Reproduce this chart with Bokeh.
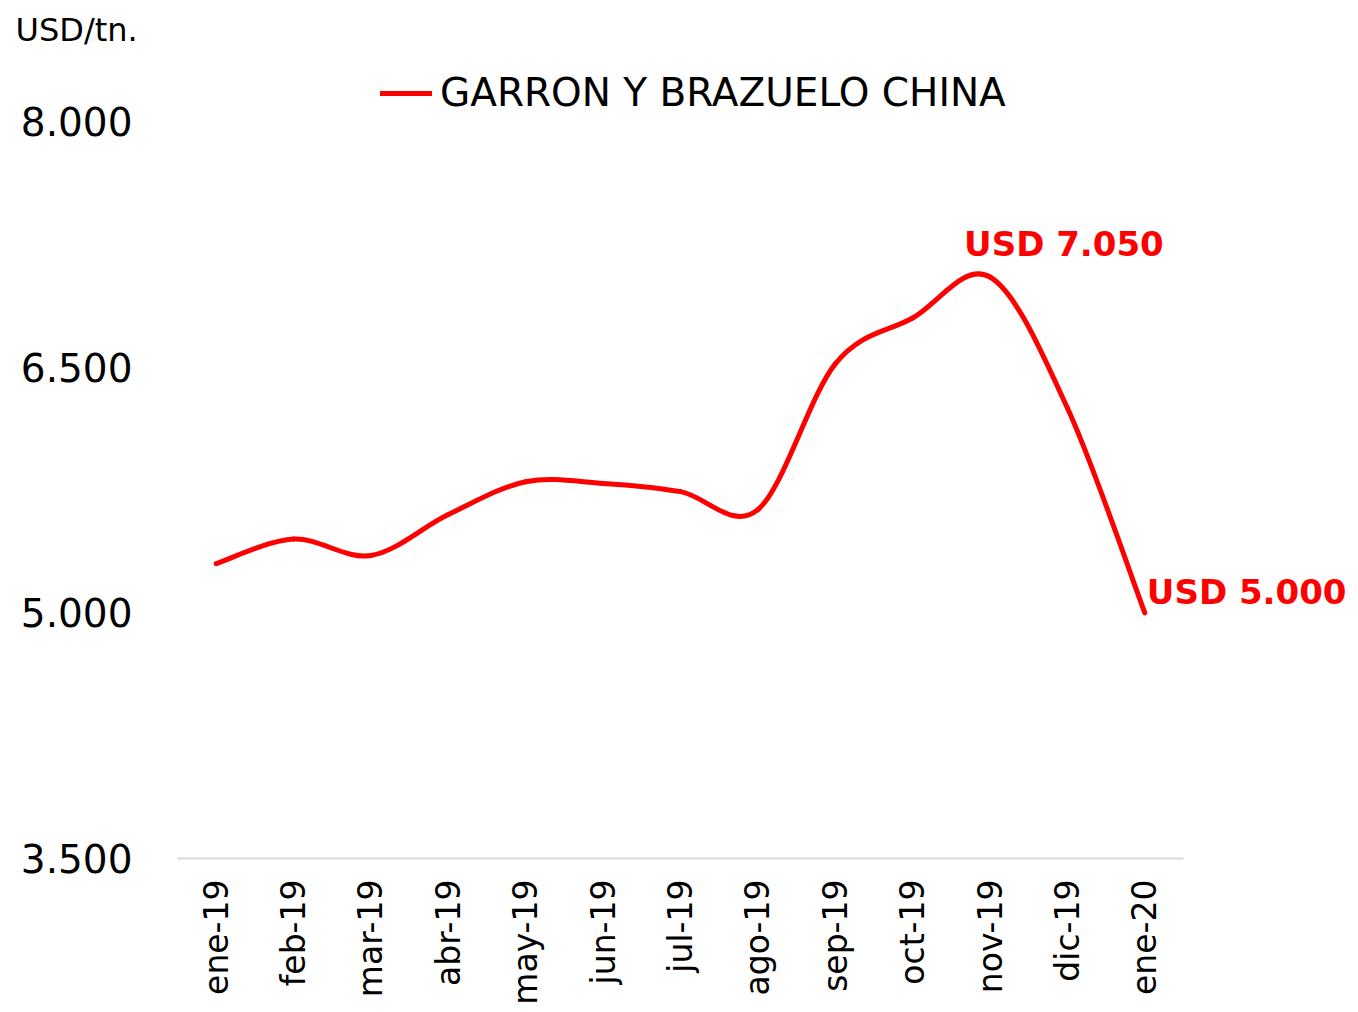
import numpy as np
from bokeh.plotting import figure
from bokeh.models import Range1d, FixedTicker, Label, Legend, LegendItem
from bokeh.embed import file_html
from bokeh.resources import INLINE

# ---- data ----
months = ["ene-19", "feb-19", "mar-19", "abr-19", "may-19", "jun-19", "jul-19",
          "ago-19", "sep-19", "oct-19", "nov-19", "dic-19", "ene-20"]
prices = [5300, 5450, 5350, 5600, 5800, 5790, 5740, 5630, 6520, 6800, 7050, 6250, 5000]
y_ticks = [3500, 5000, 6500, 8000]
series_name = "GARRON Y BRAZUELO CHINA"
unit_label = "USD/tn."


def fmt(v):
    return f"{v:,}".replace(",", ".")


FONT = "DejaVu Sans"
RED = "#ff0000"

# ---- layout (pixels) ----
W, H = 1350, 1010
LEFT, TOP, BOTTOM = 177, 56, 152
AXIS_TOP = 120          # where the top tick sits
AXIS_BOTTOM = H - BOTTOM
PLOT_W = 1006           # width taken by the categories
n = len(months)
extra_px = W - LEFT - PLOT_W   # room on the right for the end label
x_end = n - 0.5 + n * extra_px / PLOT_W
span = y_ticks[-1] - y_ticks[0]
y_end = y_ticks[-1] + (AXIS_TOP - TOP) * span / (AXIS_BOTTOM - AXIS_TOP)

p = figure(width=W, height=H, output_backend="svg", toolbar_location=None,
           x_range=Range1d(-0.5, x_end),
           y_range=Range1d(y_ticks[0], y_end),
           min_border_left=LEFT, min_border_right=0,
           min_border_top=TOP, min_border_bottom=BOTTOM)
p.outline_line_color = None
p.xgrid.visible = False
p.ygrid.visible = False
p.background_fill_color = "white"
p.border_fill_color = "white"

# smoothed line (Catmull-Rom -> cubic Bezier segments, like Excel's smoothing)
xs = np.arange(n, dtype=float)
ys = np.array(prices, dtype=float)
i0 = np.arange(n - 1)
i1 = i0 + 1
prev_i = np.maximum(i0 - 1, 0)
next_i = np.minimum(i0 + 2, n - 1)
cx0 = xs[i0] + (xs[i1] - xs[prev_i]) / 6
cy0 = ys[i0] + (ys[i1] - ys[prev_i]) / 6
cx1 = xs[i1] - (xs[next_i] - xs[i0]) / 6
cy1 = ys[i1] - (ys[next_i] - ys[i0]) / 6
r = p.bezier(x0=xs[i0], y0=ys[i0], x1=xs[i1], y1=ys[i1],
             cx0=cx0, cy0=cy0, cx1=cx1, cy1=cy1,
             line_color=RED, line_width=5, line_cap="round")

# axes
xa = p.xaxis[0]
xa.ticker = FixedTicker(ticks=list(range(n)))
xa.bounds = (-0.5, n - 0.5)
xa.major_label_overrides = {i: m for i, m in enumerate(months)}
xa.major_label_orientation = np.pi / 2
xa.major_label_text_font = FONT
xa.major_label_text_font_size = "33px"
xa.major_label_text_color = "#000000"
xa.major_label_standoff = 21
xa.axis_line_color = "#d9d9d9"
xa.axis_line_width = 2
xa.major_tick_line_color = None
xa.minor_tick_line_color = None
xa.major_tick_out = 0
xa.major_tick_in = 0

ya = p.yaxis[0]
ya.ticker = FixedTicker(ticks=y_ticks)
ya.major_label_overrides = {t: fmt(t) for t in y_ticks}
ya.major_label_text_font = FONT
ya.major_label_text_font_size = "39px"
ya.major_label_text_color = "#000000"
ya.major_label_standoff = 45
ya.axis_line_color = None
ya.major_tick_line_color = None
ya.minor_tick_line_color = None
ya.major_tick_out = 0
ya.major_tick_in = 0

# legend (inside the extended frame, above the top tick)
legend = Legend(items=[LegendItem(label=series_name, renderers=[r])],
                location=(203, AXIS_BOTTOM - 115), orientation="horizontal",
                border_line_color=None, background_fill_alpha=0,
                padding=0, margin=0, label_standoff=8,
                glyph_width=52, glyph_height=40,
                label_text_font=FONT, label_text_font_size="39px",
                label_text_color="#000000")
p.add_layout(legend)

# unit text as the title
p.title.text = unit_label
p.title.align = "left"
p.title.offset = 15 - LEFT
p.title.standoff = 17
p.title.text_font = FONT
p.title.text_font_size = "32px"
p.title.text_font_style = "normal"
p.title.text_color = "#000000"

# annotations
imax = int(np.argmax(prices))
p.add_layout(Label(x=imax, y=prices[imax], x_offset=-26, y_offset=33,
                   text=f"USD {fmt(prices[imax])}", text_baseline="alphabetic",
                   text_font=FONT, text_font_style="bold", text_font_size="34px",
                   text_color=RED))
ilast = n - 1
p.add_layout(Label(x=ilast, y=prices[ilast], x_offset=2, y_offset=21,
                   text=f"USD {fmt(prices[ilast])}", text_baseline="alphabetic",
                   text_font=FONT, text_font_style="bold", text_font_size="34px",
                   text_color=RED))

open("out.html", "w").write(file_html(p, INLINE))
